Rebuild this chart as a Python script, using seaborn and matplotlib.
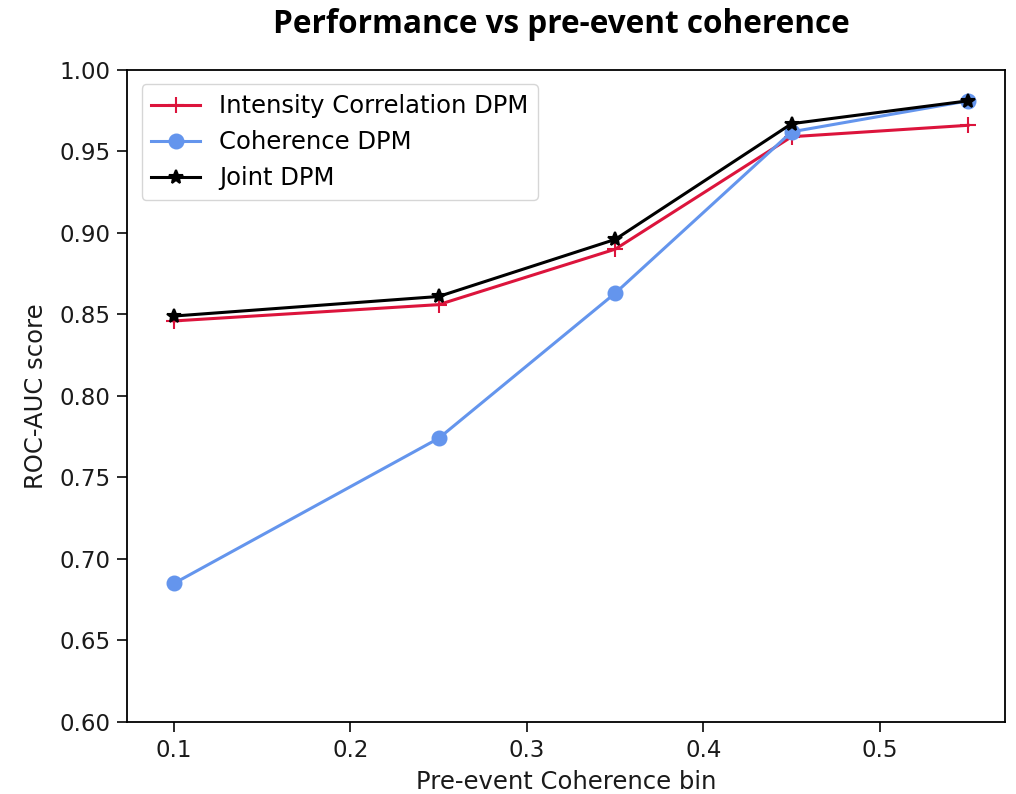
import numpy as np
import pandas as pd
import matplotlib
matplotlib.use("Agg")
import matplotlib.pyplot as plt
import seaborn as sns

# coherence bins and ROC-AUC scores per model
bins = [0.1, 0.25, 0.35, 0.45, 0.55]
intensity_auc = [0.846, 0.856, 0.890, 0.959, 0.966]
coherence_auc = [0.685, 0.774, 0.863, 0.962, 0.981]
joint_auc = [0.849, 0.861, 0.896, 0.967, 0.981]

series = [
    ("Intensity Correlation DPM", intensity_auc, "crimson", "+", 12),
    ("Coherence DPM", coherence_auc, "cornflowerblue", "o", 10),
    ("Joint DPM", joint_auc, "black", "*", 10),
]

plt.rcParams['font.family'] = ['DejaVu Sans']

fig = plt.figure(figsize=(10.16, 7.94), dpi=100)
ax = fig.add_axes([0.125, 0.0907, 0.864, 0.8213])

for name, vals, color, marker, ms in series:
    df = pd.DataFrame({"bin": bins, "auc": vals})
    sns.lineplot(data=df, x="bin", y="auc", ax=ax, color=color, marker=marker,
                 markersize=ms, linewidth=2.2, label=name,
                 markeredgecolor=color, markeredgewidth=1.5)

ax.set_xlim(0.0734, 0.5708)
ax.set_ylim(0.6, 1.0)
ax.set_xticks([0.1, 0.2, 0.3, 0.4, 0.5])
ax.set_yticks(np.arange(0.60, 1.001, 0.05))
ax.tick_params(labelsize=16.5, length=7, width=1.3, pad=5, colors="#1a1a1a")
for s in ax.spines.values():
    s.set_linewidth(1.3)
ax.set_xlabel("Pre-event Coherence bin", fontsize=17.5, labelpad=6, color="#1a1a1a")
ax.set_ylabel("ROC-AUC score", fontsize=17.5, labelpad=8, color="#1a1a1a")
ax.legend(loc="upper left", fontsize=17.5, frameon=True, handlelength=2,
          borderaxespad=0.6)

fig.suptitle("Performance vs pre-event coherence", fontsize=22.7, fontweight="bold",
             family=["Open Sans", "DejaVu Sans"], x=0.553, y=0.99)

fig.savefig("out.png", dpi=100)
